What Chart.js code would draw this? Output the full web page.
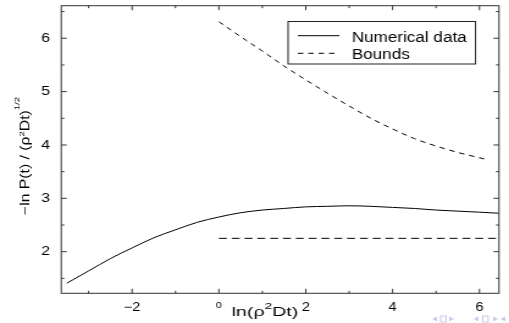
<!DOCTYPE html>
<html>
<head>
<meta charset="utf-8">
<script src="https://cdn.jsdelivr.net/npm/chart.js@4.4.0/dist/chart.umd.min.js"></script>
<style>
html, body { margin: 0; padding: 0; background: #fff; overflow: hidden; }
/* a figura original e esticada na horizontal */
#wrap { width: 417px; height: 323px; transform: scaleX(1.2206); transform-origin: 0 0; }
</style>
</head>
<body>
<div id="wrap"><canvas id="grafico" width="417" height="323"></canvas></div>
<script>
// valores
const numX = [-3.5, -3, -2.5, -2, -1.5, -1, -0.5, 0, 0.5, 1, 1.5, 2, 2.5, 3, 3.5, 4, 4.5, 5, 5.5, 6, 6.45];
const numY = [1.41, 1.64, 1.87, 2.07, 2.26, 2.41, 2.55, 2.65, 2.73, 2.78, 2.81, 2.84, 2.85, 2.86, 2.85, 2.83, 2.81, 2.78, 2.76, 2.74, 2.72];
const upX = [0, 0.5, 1, 1.5, 2, 2.5, 3, 3.5, 4, 4.5, 5, 5.5, 6, 6.2];
const upY = [6.31, 6.03, 5.76, 5.48, 5.22, 4.97, 4.73, 4.50, 4.30, 4.12, 3.98, 3.86, 3.76, 3.72];
const lowX = [0, 6.45];
const lowY = [2.25, 2.25];
const nomes = ['Numerical data', 'Bounds'];
const xTicks = [-3, -2, -1, 0, 1, 2, 3, 4, 5, 6];
const yTicks = [1.5, 2, 2.5, 3, 3.5, 4, 4.5, 5, 5.5, 6, 6.5];

const FONTE = '"Liberation Sans", Arial, Helvetica, sans-serif';

function pontos(xs, ys){
    return xs.map((x, i) => ({x: x, y: ys[i]}));
}

// escreve texto com sobrescritos, esticado ate a largura pedida
function textoRico(ctx, partes, size, largura){
    let w = 0;
    partes.forEach(p => {
        ctx.font = (p[1] ? size * p[2] : size) + 'px ' + FONTE;
        w += ctx.measureText(p[0]).width;
    });
    ctx.scale(largura / w, 1);
    let cx = 0;
    partes.forEach(p => {
        ctx.font = (p[1] ? size * p[2] : size) + 'px ' + FONTE;
        ctx.fillText(p[0], cx, p[1] ? -size * p[1] : 0);
        cx += ctx.measureText(p[0]).width;
    });
}

// sem folga extra das escalas, para a area do grafico ficar onde deve
function semFolga(s){
    s.paddingTop = 0;
    s.paddingBottom = 0;
    s.paddingLeft = 0;
    s.paddingRight = 0;
}

const moldura = {
    id: 'moldura',
    afterDraw(chart){
        const { ctx, chartArea: { left, right, top, bottom }, scales: { x, y } } = chart;
        ctx.save();
        ctx.strokeStyle = '#333';
        ctx.lineWidth = 1;
        ctx.setLineDash([]);
        ctx.strokeRect(left, top, right - left, bottom - top);
        ctx.beginPath();
        x.ticks.forEach(t => {
            const px = x.getPixelForValue(t.value);
            const len = t.value % 2 === 0 ? 4.5 : 2.5;
            ctx.moveTo(px, bottom); ctx.lineTo(px, bottom - len);
            ctx.moveTo(px, top); ctx.lineTo(px, top + len);
        });
        y.ticks.forEach(t => {
            const py = y.getPixelForValue(t.value);
            const len = Number.isInteger(t.value) ? 4.5 : 2.5;
            ctx.moveTo(left, py); ctx.lineTo(left + len, py);
            ctx.moveTo(right, py); ctx.lineTo(right - len, py);
        });
        ctx.stroke();

        // legenda
        ctx.strokeStyle = '#222';
        ctx.strokeRect(236, 21.5, 153.6, 42.5);
        const linhas = [35.7, 53.3];
        chart.data.datasets.slice(0, 2).forEach((ds, i) => {
            ctx.beginPath();
            ctx.strokeStyle = '#000';
            ctx.lineWidth = 1;
            ctx.setLineDash(ds.borderDash || []);
            ctx.moveTo(244, linhas[i]);
            ctx.lineTo(278, linhas[i]);
            ctx.stroke();
            ctx.setLineDash([]);
            ctx.fillStyle = '#000';
            ctx.font = '14px ' + FONTE;
            ctx.textBaseline = 'alphabetic';
            ctx.textAlign = 'left';
            ctx.fillText(ds.label, 288.2, linhas[i] + 5.8);
        });

        // titulos dos eixos
        ctx.fillStyle = '#000';
        ctx.textBaseline = 'alphabetic';
        ctx.textAlign = 'left';
        ctx.save();
        ctx.translate(24, 215);
        ctx.rotate(-Math.PI / 2);
        textoRico(ctx, [['\u2212ln P(t) / (\u03c1'], ['2', 0.43, 0.6], ['Dt)'], ['1/2', 0.78, 0.6]], 10, 118);
        ctx.restore();
        ctx.save();
        ctx.translate(189.8, 315.7);
        textoRico(ctx, [['ln(\u03c1'], ['2', 0.5, 0.7], ['Dt)']], 12.5, 54.6);
        ctx.restore();

        // simbolos de navegacao (clarinhos)
        ctx.fillStyle = '#c9c9e6';
        ctx.strokeStyle = '#c9c9e6';
        ctx.beginPath();
        ctx.moveTo(354, 319); ctx.lineTo(358, 316.5); ctx.lineTo(358, 321.5); ctx.closePath();
        ctx.moveTo(388, 319); ctx.lineTo(392, 316.5); ctx.lineTo(392, 321.5); ctx.closePath();
        ctx.moveTo(410, 319); ctx.lineTo(414, 316.5); ctx.lineTo(414, 321.5); ctx.closePath();
        ctx.fill();
        ctx.beginPath();
        ctx.moveTo(408, 319); ctx.lineTo(404, 316.5); ctx.lineTo(404, 321.5); ctx.closePath();
        ctx.moveTo(372, 319); ctx.lineTo(368, 316.5); ctx.lineTo(368, 321.5); ctx.closePath();
        ctx.fill();
        ctx.strokeRect(361, 316, 4.5, 6);
        ctx.strokeRect(395.5, 316, 4.5, 6);
        ctx.restore();
    }
};

const dados = {
    datasets: [{
        label: nomes[0],
        data: pontos(numX, numY),
        borderColor: '#000',
        borderWidth: 1,
        borderDash: []
    }, {
        label: nomes[1],
        data: pontos(upX, upY),
        borderColor: '#000',
        borderWidth: 1,
        borderDash: [4.5, 4]
    }, {
        label: nomes[1],
        data: pontos(lowX, lowY),
        borderColor: '#000',
        borderWidth: 1,
        borderDash: [6.5, 4]
    }]
};
dados.datasets.forEach(ds => {
    ds.showLine = true;
    ds.pointRadius = 0;
    ds.cubicInterpolationMode = 'monotone';
    ds.fill = false;
});

const config = {
    type: 'scatter',
    data: dados,
    options: {
        responsive: false,
        animation: false,
        events: [],
        layout: { padding: { top: 5.7, right: 8.2, left: 0, bottom: 0 } },
        plugins: {
            legend: { display: false },
            tooltip: { enabled: false }
        },
        scales: {
            x: {
                type: 'linear',
                min: -3.63,
                max: 6.45,
                afterBuildTicks: s => { s.ticks = xTicks.map(v => ({ value: v })); },
                afterFit: s => { s.height = 29.7; semFolga(s); },
                grid: { display: false, drawTicks: false },
                border: { display: false },
                ticks: {
                    padding: 7,
                    color: '#000',
                    maxRotation: 0,
                    autoSkip: false,
                    font: c => ({ size: c.tick && c.tick.value === 0 ? 9 : 12, family: FONTE }),
                    callback: v => v % 2 === 0 ? String(v).replace('-', '\u2212') : ''
                }
            },
            y: {
                type: 'linear',
                min: 1.22,
                max: 6.61,
                afterBuildTicks: s => { s.ticks = yTicks.map(v => ({ value: v })); },
                afterFit: s => { s.width = 50.2; semFolga(s); },
                grid: { display: false, drawTicks: false },
                border: { display: false },
                ticks: {
                    padding: 9.2,
                    color: '#000',
                    autoSkip: false,
                    font: { size: 13, family: FONTE },
                    callback: v => Number.isInteger(v) ? String(v) : ''
                }
            }
        }
    },
    plugins: [moldura]
};

new Chart(document.getElementById('grafico'), config);
</script>
</body>
</html>
